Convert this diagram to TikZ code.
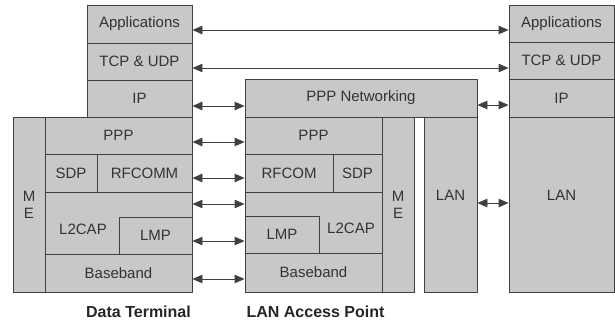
\documentclass[tikz,border=0pt]{standalone}
\usepackage{fontspec}
\setmainfont{Liberation Sans}
\usetikzlibrary{arrows.meta}

\tikzset{
	layer/.style={rectangle, draw=black!75, line width=0.9pt, fill=gray!43, text=black!80, inner sep=0pt, font=\fontsize{15}{17}\selectfont},
	link/.style={arrows={Triangle[length=10pt,width=8.5pt]-Triangle[length=10pt,width=8.5pt]}, draw=black!75, line width=0.9pt},
	stackname/.style={text=black!85, font=\fontsize{16}{18}\selectfont\bfseries},
}

\begin{document}
\begin{tikzpicture}[x=1pt,y=-1pt]
		\useasboundingbox (0,0) rectangle (615,325);

		% data terminal stack
		\node[layer, minimum width=105pt, minimum height=38pt](dtApp) at (139.5,24){Applications};
		\node[layer, minimum width=105pt, minimum height=37pt](dtTcp) at (139.5,61.5){TCP \& UDP};
		\node[layer, minimum width=105pt, minimum height=37pt](dtIp) at (139.5,98.5){IP};
		\node[layer, minimum width=32pt, minimum height=175pt, align=center](dtMe) at (29,204.5){M\\[0pt]E};
		\node[layer, minimum width=147pt, minimum height=37pt](dtPpp) at (118.5,135.5){PPP};
		\node[layer, minimum width=52pt, minimum height=38pt](dtSdp) at (71,173){SDP};
		\node[layer, minimum width=95pt, minimum height=38pt](dtRfcomm) at (144.5,173){RFCOMM};
		\node[layer, minimum width=147pt, minimum height=62pt, label={[xshift=-35.5pt,yshift=-6pt, text=black!80, font=\fontsize{15}{17}\selectfont]center:L2CAP}](dtLtcap) at (118.5,223){};
		\node[layer, minimum width=73pt, minimum height=37pt](dtLmp) at (155.5,235.5){LMP};
		\node[layer, minimum width=147pt, minimum height=38pt](dtBase) at (118.5,273){Baseband};

		% access point stack
		\node[layer, minimum width=232pt, minimum height=38pt](apPppNet) at (361,98){PPP Networking};
		\node[layer, minimum width=137pt, minimum height=37pt](apPpp) at (313.5,135.5){PPP};
		\node[layer, minimum width=32pt, minimum height=175pt, align=center](apMe) at (398,204.5){M\\[0pt]E};
		\node[layer, minimum width=88pt, minimum height=38pt](apRfcom) at (289,173){RFCOM};
		\node[layer, minimum width=49pt, minimum height=38pt](apSdp) at (357.5,173){SDP};
		\node[layer, minimum width=137pt, minimum height=61pt, label={[xshift=37.5pt,yshift=-5.5pt, text=black!80, font=\fontsize{15}{17}\selectfont]center:L2CAP}](apLtcap) at (313.5,222.5){};
		\node[layer, minimum width=74pt, minimum height=37pt](apLmp) at (282,234.5){LMP};
		\node[layer, minimum width=137pt, minimum height=39pt](apBase) at (313.5,272.5){Baseband};
		\node[layer, minimum width=53pt, minimum height=175pt, label={[yshift=9pt, text=black!80, font=\fontsize{15}{17}\selectfont]center:LAN}](apLan) at (450.5,204.5){};

		% remote host stack
		\node[layer, minimum width=105pt, minimum height=37pt](rtApp) at (561.5,23.5){Applications};
		\node[layer, minimum width=105pt, minimum height=37pt](rtTcp) at (561.5,60.5){TCP \& UDP};
		\node[layer, minimum width=105pt, minimum height=38pt](rtIp) at (561.5,98){IP};
		\node[layer, minimum width=105pt, minimum height=175pt, label={[yshift=9pt, text=black!80, font=\fontsize{15}{17}\selectfont]center:LAN}](rtLan) at (561.5,204.5){};

		% stack names
		\node[stackname](dtName) at (138.5,312){Data Terminal};
		\node[stackname](apName) at (315.5,312){LAN Access Point};

		% draw end to end links
		\draw[link] ([yshift=-6pt]dtApp.east) -- ([yshift=-6.5pt]rtApp.west);
		\draw[link] ([yshift=-6.5pt]dtTcp.east) -- ([yshift=-7.5pt]rtTcp.west);

		% draw peer links
		\draw[link] ([yshift=-7.5pt]dtIp.east) -- ([yshift=-8pt]apPppNet.west);
		\draw[link] ([yshift=-6.5pt]dtPpp.east) -- ([yshift=-6.5pt]apPpp.west);
		\draw[link] ([yshift=-5pt]dtRfcomm.east) -- ([yshift=-5pt]apRfcom.west);
		\draw[link] ([yshift=19pt]dtLtcap.east) -- ([yshift=18.5pt]apLtcap.west);
		\draw[link] ([yshift=-5.5pt]dtLmp.east) -- ([yshift=-6.5pt]apLmp.west);
		\draw[link] ([yshift=-6pt]dtBase.east) -- ([yshift=-6.5pt]apBase.west);
		\draw[link] ([yshift=-7pt]apPppNet.east) -- ([yshift=-7pt]rtIp.west);
		\draw[link] ([yshift=1.5pt]apLan.east) -- ([yshift=1.5pt]rtLan.west);

	\end{tikzpicture}
\end{document}
